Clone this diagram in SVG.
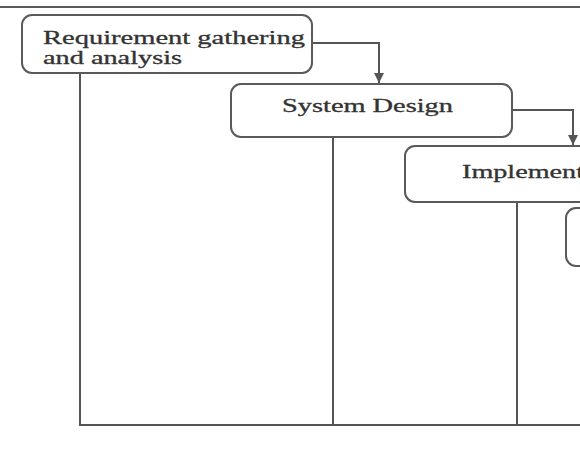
<svg xmlns="http://www.w3.org/2000/svg" width="580" height="458" viewBox="0 0 580 458">
  <defs>
    <marker id="arr" viewBox="0 0 10 10" refX="10" refY="5" markerWidth="10" markerHeight="10" markerUnits="userSpaceOnUse" orient="auto">
      <path d="M0,0 L10,5 L0,10 z" fill="#555"/>
    </marker>
    <style>
      .box { fill: #ffffff; stroke: #5a5a5a; stroke-width: 2; }
      .lbl { font-family: "Liberation Serif", "Times New Roman", serif; fill: #333; stroke: #333; stroke-width: 0.3; font-size: 18px; }
      .ln { fill: none; stroke: #555; stroke-width: 2; }
      .rule { stroke: #222; stroke-width: 1.5; }
    </style>
  </defs>
  <rect width="580" height="458" fill="#ffffff"/>
  <line class="rule" x1="0" y1="7" x2="580" y2="7"/>

  <g id="connectors">
    <polyline class="ln" points="312,43 379,43 379,83" marker-end="url(#arr)"/>
    <polyline class="ln" points="512,110 573,110 573,145" marker-end="url(#arr)"/>
    <line class="ln" x1="80" y1="73" x2="80" y2="425"/>
    <line class="ln" x1="333" y1="137" x2="333" y2="425"/>
    <line class="ln" x1="517" y1="202" x2="517" y2="425"/>
    <line class="ln" x1="79" y1="425" x2="580" y2="425"/>
  </g>

  <g id="node-requirement">
    <rect class="box" x="22" y="15" width="290" height="58" rx="10"/>
    <text class="lbl" x="43" y="44" textLength="262" lengthAdjust="spacingAndGlyphs">Requirement gathering</text>
    <text class="lbl" x="43" y="64" textLength="139" lengthAdjust="spacingAndGlyphs">and analysis</text>
  </g>

  <g id="node-system-design">
    <rect class="box" x="231" y="84" width="281" height="53" rx="10"/>
    <text class="lbl" x="282" y="112" textLength="171" lengthAdjust="spacingAndGlyphs">System Design</text>
  </g>

  <g id="node-implementation">
    <rect class="box" x="405" y="146" width="200" height="56" rx="10"/>
    <text class="lbl" x="462" y="178" textLength="122" lengthAdjust="spacingAndGlyphs">Implement</text>
  </g>

  <g id="node-next">
    <rect class="box" x="566" y="208" width="60" height="58" rx="10"/>
  </g>
</svg>
